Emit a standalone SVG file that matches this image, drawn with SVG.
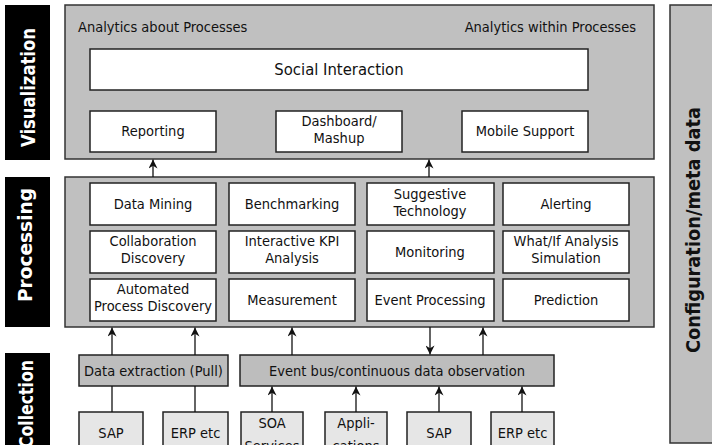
<svg xmlns="http://www.w3.org/2000/svg" width="712" height="445" viewBox="0 0 712 445">
<defs>
<style>
text{font-family:"DejaVu Sans Condensed","Liberation Sans",sans-serif;fill:#111;}
.lbl{font-size:14.5px;text-anchor:middle;}
.big{font-size:16.5px;text-anchor:middle;}
.small{font-size:14.5px;}
.side{font-size:20px;font-weight:bold;fill:#fff;text-anchor:middle;}
.sideb{font-size:20px;font-weight:bold;fill:#111;text-anchor:middle;}
.outer{fill:#c0c0c0;stroke:#333;stroke-width:1.5;}
.cell{fill:#fff;stroke:#222;stroke-width:1.5;}
.bus{fill:#bdbdbd;stroke:#222;stroke-width:1.5;}
.src{fill:#e6e6e6;stroke:#222;stroke-width:1.5;}
.black{fill:#000;}
.conn{stroke:#111;stroke-width:1.3;fill:none;}
</style>
<marker id="ah" viewBox="0 0 10 10" refX="10" refY="5" markerWidth="10" markerHeight="9" orient="auto" markerUnits="userSpaceOnUse">
<path d="M0,0 L10,5 L0,10 L3,5 Z" fill="#111"/>
</marker>
</defs>

<g id="label-visualization"><rect class="black" x="5" y="5" width="45" height="155"/><text class="side" transform="translate(35,87.5) rotate(-90)" textLength="119" lengthAdjust="spacingAndGlyphs">Visualization</text></g>
<g id="label-processing"><rect class="black" x="5" y="177" width="45" height="150"/><text class="side" transform="translate(32,245) rotate(-90)" textLength="114" lengthAdjust="spacingAndGlyphs">Processing</text></g>
<g id="label-collection"><rect class="black" x="5" y="353" width="45" height="95"/><text class="side" transform="translate(33,404) rotate(-90)" textLength="88" lengthAdjust="spacingAndGlyphs">Collection</text></g>

<g id="config"><rect class="outer" x="670" y="5" width="50" height="438"/><text class="sideb" transform="translate(700,230) rotate(-90)" textLength="246" lengthAdjust="spacingAndGlyphs">Configuration/meta data</text></g>

<g id="visualization">
<rect class="outer" x="65" y="5" width="589" height="154"/>
<text class="small" x="78" y="32">Analytics about Processes</text>
<text class="small" x="636" y="32" text-anchor="end">Analytics within Processes</text>
</g>
<g id="social"><rect class="cell" x="90" y="49" width="498" height="41"/><text class="big" x="339" y="75">Social Interaction</text></g>
<g id="reporting"><rect class="cell" x="90" y="111" width="126" height="41"/><text class="lbl" x="153" y="136">Reporting</text></g>
<g id="dashboard"><rect class="cell" x="276" y="111" width="126" height="41"/><text class="lbl" x="339" y="126">Dashboard/</text><text class="lbl" x="339" y="143">Mashup</text></g>
<g id="mobile"><rect class="cell" x="462" y="111" width="126" height="41"/><text class="lbl" x="525" y="136">Mobile Support</text></g>

<g id="processing"><rect class="outer" x="65" y="177" width="589" height="150"/></g>
<g id="datamining"><rect class="cell" x="90" y="183" width="126" height="42"/><text class="lbl" x="153" y="209">Data Mining</text></g>
<g id="benchmarking"><rect class="cell" x="229" y="183" width="126" height="42"/><text class="lbl" x="292" y="209">Benchmarking</text></g>
<g id="suggestive"><rect class="cell" x="367" y="183" width="127" height="42"/><text class="lbl" x="430" y="199">Suggestive</text><text class="lbl" x="430" y="216">Technology</text></g>
<g id="alerting"><rect class="cell" x="503" y="183" width="126" height="42"/><text class="lbl" x="566" y="209">Alerting</text></g>
<g id="collab"><rect class="cell" x="90" y="231" width="126" height="42"/><text class="lbl" x="153" y="246">Collaboration</text><text class="lbl" x="153" y="263">Discovery</text></g>
<g id="kpi"><rect class="cell" x="229" y="231" width="126" height="42"/><text class="lbl" x="292" y="246">Interactive KPI</text><text class="lbl" x="292" y="263">Analysis</text></g>
<g id="monitoring"><rect class="cell" x="367" y="231" width="127" height="42"/><text class="lbl" x="430" y="257">Monitoring</text></g>
<g id="whatif"><rect class="cell" x="503" y="231" width="126" height="42"/><text class="lbl" x="566" y="246">What/If Analysis</text><text class="lbl" x="566" y="263">Simulation</text></g>
<g id="automated"><rect class="cell" x="90" y="279" width="126" height="42"/><text class="lbl" x="153" y="294">Automated</text><text class="lbl" x="153" y="311">Process Discovery</text></g>
<g id="measurement"><rect class="cell" x="229" y="279" width="126" height="42"/><text class="lbl" x="292" y="305">Measurement</text></g>
<g id="eventproc"><rect class="cell" x="367" y="279" width="127" height="42"/><text class="lbl" x="430" y="305">Event Processing</text></g>
<g id="prediction"><rect class="cell" x="503" y="279" width="126" height="42"/><text class="lbl" x="566" y="305">Prediction</text></g>

<g id="dataextraction"><rect class="bus" x="79" y="355" width="149" height="31"/><text class="lbl" x="153.5" y="376">Data extraction (Pull)</text></g>
<g id="eventbus"><rect class="bus" x="240" y="355" width="314" height="31"/><text class="lbl" x="397" y="376">Event bus/continuous data observation</text></g>

<g id="sap1"><rect class="src" x="79" y="412" width="64" height="40"/><text class="lbl" x="111" y="438">SAP</text></g>
<g id="erp1"><rect class="src" x="163" y="412" width="65" height="40"/><text class="lbl" x="195.5" y="438">ERP etc</text></g>
<g id="soa"><rect class="src" x="241" y="412" width="62" height="40"/><text class="lbl" x="272" y="428">SOA</text><text class="lbl" x="272" y="451">Services</text></g>
<g id="apps"><rect class="src" x="325" y="412" width="62" height="40"/><text class="lbl" x="356" y="428">Appli-</text><text class="lbl" x="356" y="451">cations</text></g>
<g id="sap2"><rect class="src" x="407" y="412" width="64" height="40"/><text class="lbl" x="439" y="438">SAP</text></g>
<g id="erp2"><rect class="src" x="491" y="412" width="63" height="40"/><text class="lbl" x="522.5" y="438">ERP etc</text></g>

<g id="connectors">
<line class="conn" x1="153" y1="177" x2="153" y2="159.5" marker-end="url(#ah)"/>
<line class="conn" x1="429" y1="177" x2="429" y2="159.5" marker-end="url(#ah)"/>
<line class="conn" x1="112" y1="355" x2="112" y2="327.5" marker-end="url(#ah)"/>
<line class="conn" x1="195" y1="355" x2="195" y2="327.5" marker-end="url(#ah)"/>
<line class="conn" x1="292" y1="355" x2="292" y2="327.5" marker-end="url(#ah)"/>
<line class="conn" x1="430" y1="327" x2="430" y2="354.5" marker-end="url(#ah)"/>
<line class="conn" x1="483" y1="355" x2="483" y2="327.5" marker-end="url(#ah)"/>
<line class="conn" x1="112" y1="412" x2="112" y2="386"/>
<line class="conn" x1="195" y1="412" x2="195" y2="386"/>
<line class="conn" x1="272" y1="412" x2="272" y2="386.5" marker-end="url(#ah)"/>
<line class="conn" x1="356" y1="412" x2="356" y2="386.5" marker-end="url(#ah)"/>
<line class="conn" x1="439" y1="412" x2="439" y2="386.5" marker-end="url(#ah)"/>
<line class="conn" x1="522" y1="412" x2="522" y2="386.5" marker-end="url(#ah)"/>
</g>
</svg>
